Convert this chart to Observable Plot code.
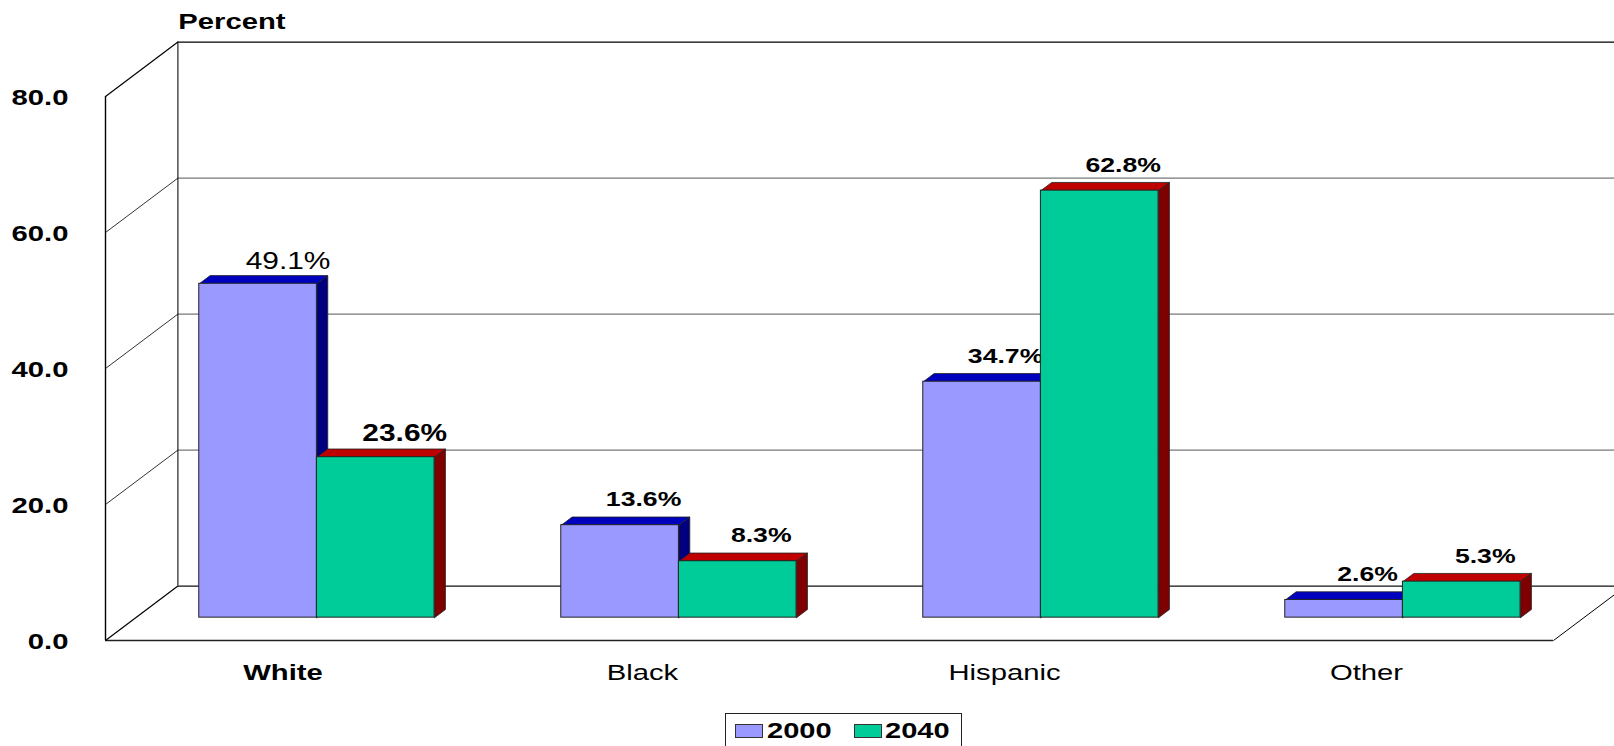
<!DOCTYPE html>
<html>
<head>
<meta charset="utf-8">
<script src="https://cdn.jsdelivr.net/npm/d3@7"></script>
<script src="https://cdn.jsdelivr.net/npm/@observablehq/plot@0.6"></script>
<style>
  html, body { margin: 0; padding: 0; background: #fff; overflow: hidden; }
  #stage { position: relative; width: 1614px; height: 746px; overflow: hidden; font-family: "Liberation Sans", Arial, sans-serif; }
  #stage svg { display: block; }
  .legend { position: absolute; left: 725px; top: 713px; width: 237px; height: 33px; box-sizing: border-box;
            border: 1px solid #222; border-bottom: none; background: #fff; }
  .legend i { position: absolute; top: 10px; width: 28px; height: 14px; box-sizing: border-box; border: 1px solid #333; }
  .legend b { position: absolute; top: 1px; font-size: 22px; line-height: 32px; transform: scaleX(1.32); transform-origin: left center; }
</style>
</head>
<body>
<div id="stage"></div>
<script>
const categories = ["White", "Black", "Hispanic", "Other"];
const values2000 = [49.1, 13.6, 34.7, 2.6];
const values2040 = [23.6, 8.3, 62.8, 5.3];
const yTicks = [0, 20, 40, 60, 80];
const years = ["2000", "2040"];
const frontColors = ["#9999ff", "#00cc99"];
const topColors = ["#0000bf", "#bf0000"];
const sideColors = ["#00007f", "#7f0000"];

// Oblique projection: a depth z of 1 moves a point this far in data units.
const depthX = 0.2;
const depthY = 8;
const px = (x, z) => x + depthX * z;
const py = (y, z) => y + depthY * z;

// Bars stand in the floor between these two depths; each is this wide in category units.
const barZ0 = 0.42;
const barZ1 = 0.57;
const barWidth = 0.325;

const rows = years.map((year, s) =>
  categories.map((category, i) => ({
    category,
    year,
    s,
    value: (s === 0 ? values2000 : values2040)[i],
    x1: i + 0.5 - barWidth + s * barWidth,
    x2: i + 0.5 + s * barWidth
  }))
);

// Closed outline of a bar's top or side face, one vertex per row.
function face(d, kind) {
  const pts = kind === "top"
    ? [[d.x1, d.value, barZ0], [d.x2, d.value, barZ0], [d.x2, d.value, barZ1], [d.x1, d.value, barZ1]]
    : [[d.x2, 0, barZ0], [d.x2, d.value, barZ0], [d.x2, d.value, barZ1], [d.x2, 0, barZ1]];
  return [...pts, pts[0]].map(([x, y, z]) => ({ id: d.category + kind, x: px(x, z), y: py(y, z) }));
}

function barMarks(s) {
  const data = rows[s];
  const outline = { x: "x", y: "y", z: "id", stroke: "#222", strokeWidth: 0.8, curve: "linear" };
  return [
    Plot.line(data.flatMap(d => face(d, "top")), { ...outline, fill: topColors[s] }),
    Plot.line(data.flatMap(d => face(d, "side")), { ...outline, fill: sideColors[s] }),
    Plot.rect(data, {
      x1: d => px(d.x1, barZ0),
      x2: d => px(d.x2, barZ0),
      y1: py(0, barZ0),
      y2: d => py(d.value, barZ0),
      fill: frontColors[s],
      stroke: "#222",
      strokeWidth: 1
    })
  ];
}

function valueLabels(data, size, weight, dx, dy) {
  return Plot.text(data, {
    x: d => px((d.x1 + d.x2) / 2, barZ0),
    y: d => py(d.value, barZ0),
    text: d => d.value.toFixed(1) + "%",
    dx,
    dy,
    fontSize: size,
    fontWeight: weight,
    lineAnchor: "bottom",
    textAnchor: "middle",
    fill: "#000"
  });
}

const chart = Plot.plot({
  width: 1614,
  height: 746,
  marginLeft: 105,
  marginRight: 61,
  marginTop: 96,
  marginBottom: 106,
  style: { fontFamily: "'Liberation Sans', Arial, sans-serif", background: "#fff", color: "#000", overflow: "hidden" },
  x: { domain: [0, 4], axis: null },
  y: { domain: [0, 80], axis: null },
  marks: [
    // Back wall gridlines and the frame of the walls and floor
    Plot.ruleY(yTicks.slice(1, -1), { y: d => py(d, 1), x1: px(0, 1), x2: px(4, 1), stroke: "#777", strokeWidth: 1.2 }),
    Plot.ruleY([80], { y: d => py(d, 1), x1: px(0, 1), x2: px(4, 1), stroke: "#000", strokeWidth: 1.2 }),
    Plot.ruleY([0], { y: d => py(d, 1), x1: px(0, 1), x2: px(4, 1), stroke: "#111", strokeWidth: 1.3 }),
    Plot.ruleX([0], { x: d => px(d, 1), y1: py(0, 1), y2: py(80, 1), stroke: "#222", strokeWidth: 1.2 }),
    Plot.ruleX([0], { y1: 0, y2: 80, stroke: "#000", strokeWidth: 1.4 }),
    Plot.ruleY([0], { x1: 0, x2: 4, stroke: "#222", strokeWidth: 1.3 }),
    Plot.link(yTicks, {
      x1: 0, y1: d => d,
      x2: px(0, 1), y2: d => py(d, 1),
      stroke: "#000",
      strokeWidth: d => (d === 0 || d === 80 ? 1.2 : 0.8)
    }),
    Plot.link([0], { x1: 4, y1: 0, x2: px(4, 1), y2: py(0, 1), stroke: "#000", strokeWidth: 1 }),

    // Value axis
    Plot.text(yTicks, {
      x: 0, y: d => d, text: d => d.toFixed(1), dx: -37, dy: 8.5,
      lineAnchor: "bottom", textAnchor: "end", fontSize: 22.5, fontWeight: "bold", fill: "#000"
    }),
    Plot.text(["Percent"], {
      x: px(0, 1), y: py(80, 1), text: d => d, dx: 54, dy: -13,
      lineAnchor: "bottom", textAnchor: "middle", fontSize: 22.5, fontWeight: "bold", fill: "#000"
    }),

    // Category labels
    Plot.text(categories.filter(c => c === "White"), {
      x: c => categories.indexOf(c) + 0.5, y: 0, text: d => d, dx: -3.5, dy: 39,
      lineAnchor: "bottom", textAnchor: "middle", fontSize: 22.5, fontWeight: "bold", fill: "#000"
    }),
    Plot.text(categories.filter(c => c !== "White"), {
      x: c => categories.indexOf(c) + 0.5, y: 0, text: d => d, dx: -6, dy: 39,
      lineAnchor: "bottom", textAnchor: "middle", fontSize: 22.5, fontWeight: "normal", fill: "#000"
    }),

    // 2000 bars go first so the 2040 bars sit over their side faces and labels
    ...barMarks(0),
    valueLabels(rows[0].filter(d => d.category === "White"), 23, "normal", 30, -15),
    valueLabels(rows[0].filter(d => d.category !== "White"), 20.5, "bold", 23.5, -19),
    ...barMarks(1),
    valueLabels(rows[1].filter(d => d.category === "White"), 23, "bold", 29, -16),
    valueLabels(rows[1].filter(d => d.category !== "White"), 20.5, "bold", 23.5, -19)
  ]
});

// The lettering is set wide: stretch each label about its own anchor.
d3.select(chart).selectAll("text").each(function () {
  const t = this.getAttribute("transform") || "";
  this.setAttribute("transform", (t + " scale(1.3,1)").trim());
});

const stage = document.getElementById("stage");
stage.appendChild(chart);

// Legend, cut off by the bottom of the page
const legend = d3.select(stage).append("div").attr("class", "legend");
years.forEach((year, s) => {
  const left = 8.5 + s * 119;
  legend.append("i").style("left", left + "px").style("background", frontColors[s]);
  legend.append("b").style("left", left + 32.5 - s + "px").text(year);
});
</script>
</body>
</html>
